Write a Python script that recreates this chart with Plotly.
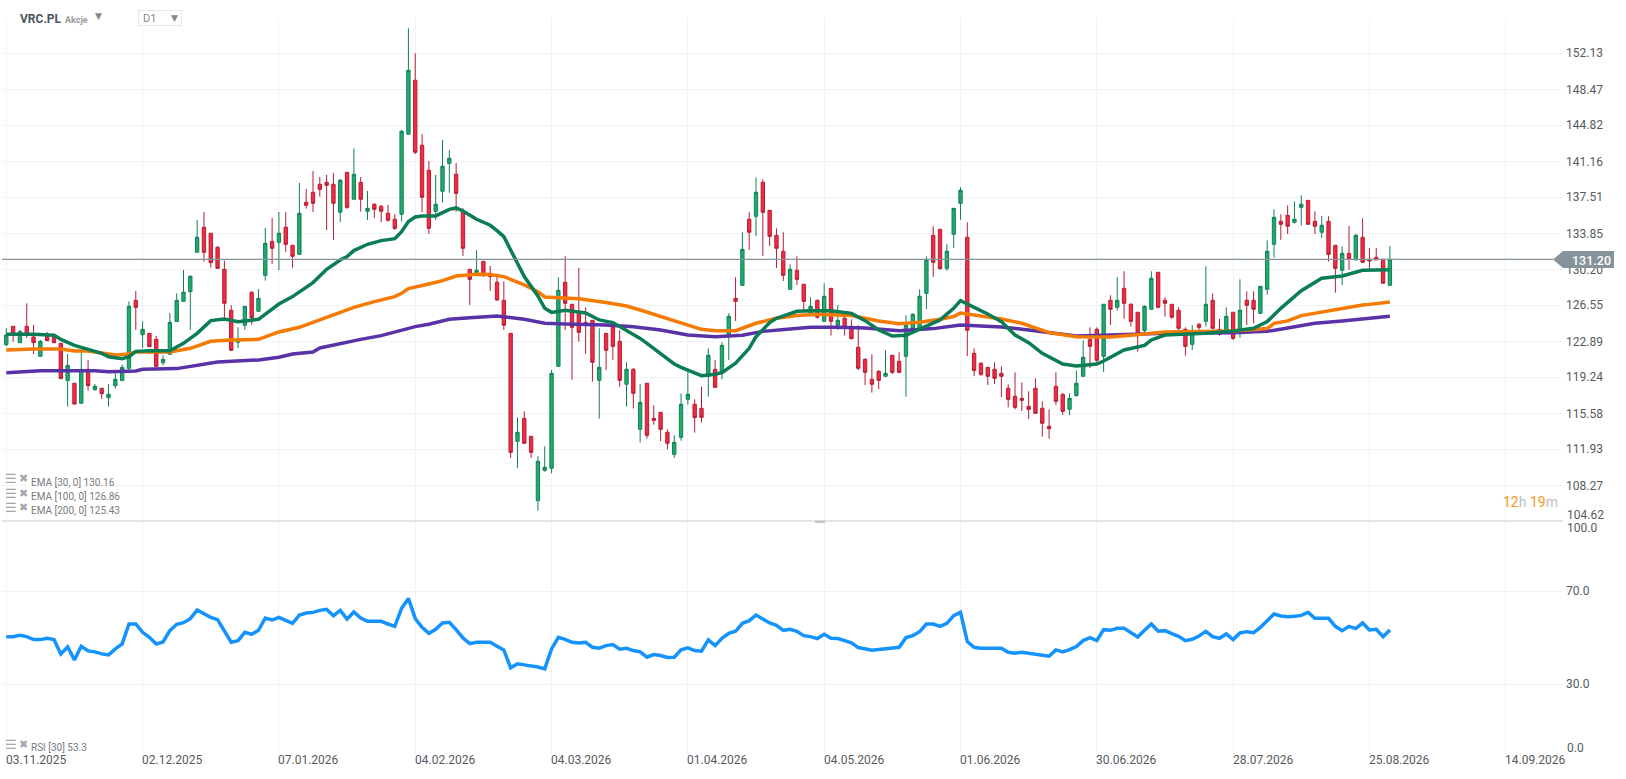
import plotly.graph_objects as go

W, H = 1626, 779

# candles (one per session)
opens = [
    122.55, 124.41, 122.75, 124.41, 123.33, 121.37, 123.43, 123.33, 122.69, 118.90,
    118.63, 116.60, 120.05, 117.98, 118.12, 117.17, 118.39, 118.90, 120.15, 127.05,
    123.57, 123.70, 123.09, 120.72, 121.57, 124.89, 126.95, 127.93, 131.93, 134.47,
    133.86, 132.43, 130.20, 126.04, 122.79, 124.52, 127.87, 125.94, 129.59, 133.04,
    132.94, 134.47, 132.64, 131.72, 137.00, 138.02, 138.83, 139.03, 138.83, 135.99,
    140.05, 137.31, 139.03, 136.09, 136.80, 136.60, 135.89, 135.28, 135.79, 143.91,
    149.39, 142.79, 140.25, 136.09, 138.12, 140.96, 139.85, 136.09, 130.20, 129.79,
    131.01, 129.79, 128.88, 127.05, 123.70, 112.74, 115.07, 113.25, 106.72, 109.79,
    110.00, 120.35, 128.88, 126.65, 125.73, 124.82, 125.02, 118.93, 123.70, 124.45,
    122.89, 118.53, 120.05, 113.96, 118.63, 115.07, 115.68, 113.65, 111.42, 113.14,
    117.00, 116.50, 116.09, 119.34, 120.05, 119.84, 123.60, 127.26, 128.57, 135.28,
    135.58, 139.03, 136.19, 133.65, 132.03, 128.17, 130.10, 128.68, 125.73, 127.05,
    124.92, 128.27, 124.52, 125.23, 124.41, 122.28, 121.06, 119.03, 119.84, 119.34,
    121.47, 120.86, 121.37, 124.11, 124.11, 127.76, 133.65, 134.26, 130.30, 133.75,
    136.90, 133.45, 121.67, 120.66, 120.25, 120.05, 119.64, 118.12, 117.31, 117.10,
    116.29, 118.12, 116.09, 114.26, 118.32, 117.51, 115.99, 117.38, 119.34, 123.09,
    124.11, 121.37, 127.05, 126.34, 128.27, 126.65, 125.84, 123.97, 126.14, 129.90,
    127.05, 126.65, 126.04, 124.11, 122.58, 124.62, 124.92, 127.05, 124.11, 123.70,
    125.84, 123.70, 127.05, 127.05, 125.73, 128.17, 132.74, 135.07, 135.68, 134.97,
    136.49, 137.20, 135.07, 133.96, 135.07, 132.64, 130.10, 131.82, 131.15, 133.45,
    131.22, 131.42, 131.22, 128.57,
]
highs = [
    124.21, 124.41, 124.04, 126.75, 124.55, 123.03, 123.84, 123.53, 122.69, 121.60,
    118.63, 121.81, 121.00, 118.56, 118.12, 118.56, 119.64, 120.52, 126.95, 128.00,
    124.92, 123.70, 123.43, 121.47, 125.77, 127.76, 130.13, 129.59, 135.21, 136.02,
    133.86, 132.57, 131.08, 126.55, 124.31, 126.44, 127.97, 128.20, 134.40, 135.41,
    136.02, 136.02, 132.64, 138.97, 138.36, 140.18, 139.57, 139.78, 139.98, 139.37,
    140.05, 142.48, 139.57, 138.15, 136.90, 136.73, 136.73, 135.82, 144.35, 154.67,
    152.13, 143.91, 141.20, 139.78, 143.33, 142.32, 141.00, 136.40, 130.20, 132.16,
    131.01, 130.54, 129.46, 128.98, 123.70, 115.17, 115.78, 113.25, 111.22, 112.23,
    119.98, 129.39, 131.52, 126.68, 130.34, 126.34, 125.02, 124.21, 123.70, 124.55,
    124.04, 120.76, 120.18, 118.56, 118.63, 116.39, 115.68, 113.96, 113.35, 117.61,
    119.84, 117.00, 118.26, 122.18, 121.00, 122.79, 125.73, 129.39, 133.96, 135.99,
    139.54, 139.34, 136.19, 134.36, 133.96, 130.71, 131.52, 128.68, 127.36, 127.15,
    128.78, 128.27, 126.55, 125.40, 125.12, 124.52, 121.17, 121.57, 119.98, 121.98,
    121.50, 121.77, 125.53, 125.73, 128.17, 131.52, 134.57, 134.26, 132.74, 136.39,
    138.53, 134.97, 122.18, 120.76, 120.25, 120.76, 120.35, 118.53, 119.74, 118.73,
    117.82, 119.13, 116.80, 115.99, 119.74, 117.61, 117.61, 119.94, 122.99, 124.31,
    124.31, 126.65, 127.56, 129.39, 130.00, 126.75, 125.84, 126.55, 130.00, 129.90,
    127.36, 126.65, 126.34, 124.31, 124.52, 124.72, 130.50, 127.76, 125.16, 126.34,
    125.84, 129.18, 127.97, 127.97, 128.47, 133.14, 136.29, 135.78, 136.70, 137.10,
    137.71, 137.20, 136.09, 135.61, 135.58, 132.64, 132.53, 134.60, 133.79, 135.38,
    132.37, 132.37, 131.22, 132.57,
]
lows = [
    122.42, 122.85, 122.75, 123.23, 121.60, 121.37, 122.96, 122.75, 119.10, 116.26,
    116.46, 116.60, 117.88, 117.88, 117.05, 116.26, 118.09, 118.90, 119.64, 124.04,
    122.21, 122.35, 120.35, 120.42, 121.57, 124.89, 126.95, 124.04, 131.93, 130.98,
    130.37, 130.30, 125.33, 121.98, 122.21, 124.04, 124.58, 125.94, 129.05, 130.74,
    130.13, 131.96, 130.34, 131.72, 136.36, 136.02, 137.58, 134.19, 133.18, 135.00,
    136.33, 137.31, 136.05, 135.21, 135.41, 135.00, 135.04, 134.19, 135.04, 143.91,
    141.91, 136.02, 133.79, 135.21, 136.97, 137.98, 136.02, 131.55, 126.58, 129.62,
    129.42, 128.00, 126.99, 124.04, 111.05, 110.03, 112.54, 111.05, 105.70, 109.66,
    109.49, 120.35, 124.04, 118.97, 122.85, 121.60, 118.80, 115.04, 119.98, 121.00,
    118.29, 116.26, 116.06, 112.60, 113.01, 114.43, 112.77, 111.93, 111.05, 112.80,
    116.46, 113.62, 114.64, 117.27, 118.22, 119.03, 121.00, 124.96, 128.57, 132.16,
    133.58, 131.55, 132.57, 130.34, 129.02, 128.17, 128.61, 125.90, 125.73, 125.19,
    124.92, 123.47, 124.04, 123.47, 123.09, 119.98, 118.46, 117.68, 118.05, 119.34,
    119.57, 119.64, 117.27, 123.64, 124.04, 126.17, 129.42, 130.13, 130.03, 132.37,
    135.21, 121.40, 119.37, 119.37, 118.46, 118.56, 117.24, 116.19, 115.99, 115.82,
    115.01, 115.58, 113.21, 113.01, 116.43, 115.41, 115.41, 117.27, 119.34, 120.18,
    120.66, 119.78, 124.55, 126.00, 125.19, 124.38, 121.84, 123.70, 126.14, 126.24,
    125.40, 125.19, 123.70, 121.43, 122.01, 123.87, 124.38, 124.11, 123.47, 123.70,
    123.03, 123.26, 124.55, 124.72, 125.73, 127.63, 131.39, 133.18, 133.79, 134.84,
    134.63, 134.77, 133.79, 133.38, 130.98, 127.83, 128.61, 130.13, 131.15, 130.88,
    130.20, 131.15, 128.78, 128.57,
]
closes = [
    123.53, 123.53, 123.87, 123.53, 122.75, 122.89, 122.96, 122.75, 119.10, 120.45,
    116.53, 120.05, 118.39, 118.32, 117.58, 117.51, 119.03, 120.25, 126.44, 126.34,
    124.11, 122.35, 120.35, 121.06, 124.82, 127.05, 127.87, 129.49, 133.45, 131.93,
    130.88, 130.30, 126.75, 121.98, 123.09, 126.44, 125.29, 127.26, 132.84, 132.33,
    133.86, 132.74, 131.52, 135.89, 136.70, 136.90, 138.32, 138.73, 136.90, 139.24,
    136.49, 139.85, 137.31, 136.39, 136.29, 136.09, 135.18, 134.36, 144.21, 150.40,
    142.08, 137.51, 134.36, 136.80, 140.66, 141.47, 137.91, 132.33, 129.18, 130.10,
    129.59, 129.46, 127.09, 124.52, 111.62, 113.65, 112.54, 111.62, 110.71, 110.10,
    119.64, 128.07, 126.75, 124.31, 123.80, 124.52, 120.76, 120.25, 121.98, 122.38,
    118.93, 120.05, 117.61, 116.70, 113.35, 114.87, 113.96, 112.54, 112.64, 116.50,
    117.51, 115.14, 115.17, 121.47, 118.22, 122.48, 125.43, 126.95, 132.23, 133.96,
    138.02, 135.99, 133.55, 132.33, 129.59, 130.20, 129.18, 126.95, 126.44, 125.33,
    127.46, 124.92, 125.02, 124.31, 123.16, 120.15, 119.74, 118.53, 118.93, 119.64,
    119.74, 119.74, 124.52, 125.63, 127.46, 131.21, 130.91, 130.27, 132.03, 136.39,
    138.22, 124.01, 119.94, 119.54, 119.34, 119.13, 119.34, 117.00, 116.19, 116.90,
    115.99, 115.58, 114.57, 114.02, 116.80, 115.78, 117.10, 118.63, 121.27, 122.38,
    120.96, 126.65, 126.14, 127.05, 126.75, 124.92, 123.70, 126.44, 129.29, 126.34,
    126.75, 125.33, 124.21, 122.38, 123.70, 124.31, 126.65, 124.21, 123.60, 125.43,
    123.19, 126.04, 126.55, 126.14, 128.47, 132.03, 135.48, 134.77, 134.57, 135.28,
    136.80, 134.77, 134.57, 134.67, 131.72, 130.30, 131.82, 131.28, 133.65, 130.91,
    131.05, 131.15, 128.78, 131.22,
]
bars = list(range(len(opens)))

# moving averages, read at the bends of each line
ema30_bars = [0, 4, 7, 8, 10, 11, 14, 15, 17, 18, 19, 21, 24, 26, 28, 30, 32, 34, 37, 40,
              42, 45, 47, 49, 50, 51, 53, 55, 57, 58, 59, 60, 61, 63, 65, 66, 67, 69, 71, 72,
              73, 74, 76, 78, 79, 80, 82, 85, 87, 89, 91, 93, 94, 96, 97, 98, 99, 100, 102, 104,
              105, 107, 109, 110, 112, 113, 116, 118, 121, 124, 126, 128, 130, 132, 134, 137, 139, 140, 142, 144,
              146, 148, 150, 152, 155, 157, 160, 161, 164, 167, 168, 170, 176, 180, 183, 185, 187, 190, 193, 196,
              199, 200, 202, 203]
ema30_vals = [123.60, 123.60, 123.50, 123.09, 122.48, 122.28, 121.67, 121.33, 121.13, 121.33,
              121.87, 121.94, 121.94, 122.69, 123.70, 124.99, 125.16, 124.89, 125.12, 126.68,
              127.43, 128.85, 130.20, 131.15, 131.49, 132.10, 132.74, 133.11, 133.31, 134.02,
              135.04, 135.51, 135.62, 135.62, 136.29, 136.43, 136.12, 135.28, 134.67, 134.13,
              133.52, 132.16, 129.46, 127.49, 126.24, 125.83, 126.04, 125.77, 125.06, 124.79,
              124.04, 123.19, 122.69, 121.67, 121.06, 120.59, 120.25, 119.98, 119.40, 119.54,
              119.71, 120.66, 122.18, 123.36, 124.79, 125.23, 125.94, 126.00, 126.00, 125.73,
              124.99, 124.04, 123.43, 123.50, 124.11, 125.06, 126.24, 127.02, 126.34, 125.67,
              124.89, 123.53, 122.75, 121.67, 120.59, 120.39, 120.59, 120.89, 122.01, 122.48,
              123.03, 123.53, 123.70, 123.94, 124.21, 124.89, 126.24, 128.03, 129.29, 129.52,
              130.10, 130.13, 130.13, 130.16]

ema100_bars = [0, 4, 8, 10, 12, 14, 16, 18, 19, 24, 27, 30, 33, 37, 40, 43, 46, 49, 51, 54,
               57, 58, 59, 62, 64, 66, 69, 71, 73, 76, 78, 79, 81, 84, 88, 91, 93, 96, 98, 100,
               102, 104, 107, 110, 113, 116, 119, 124, 128, 131, 134, 137, 139, 140, 143, 146, 149, 153, 157, 162,
               165, 170, 180, 185, 186, 188, 190, 193, 196, 199, 200, 203]
ema100_vals = [122.01, 122.11, 122.11, 121.91, 121.91, 121.67, 121.50, 121.60, 121.81, 121.81,
               122.18, 122.89, 123.03, 123.09, 123.84, 124.31, 125.06, 125.83, 126.34, 126.92,
               127.43, 127.76, 128.24, 128.71, 129.05, 129.52, 129.69, 129.66, 129.46, 128.61,
               127.93, 127.39, 127.29, 127.22, 126.82, 126.48, 126.07, 125.40, 124.92, 124.52,
               124.11, 123.97, 123.97, 124.72, 125.23, 125.50, 125.63, 125.50, 124.96, 124.68,
               124.82, 125.12, 125.40, 125.77, 125.50, 125.16, 124.72, 123.77, 123.36, 123.33,
               123.50, 123.84, 123.94, 124.18, 124.72, 124.96, 125.50, 125.87, 126.21, 126.58,
               126.64, 126.88]

ema200_bars = [0, 5, 13, 15, 19, 20, 25, 31, 37, 40, 42, 45, 46, 50, 52, 55, 57, 60, 62, 65,
               68, 72, 76, 79, 82, 88, 92, 96, 100, 104, 108, 111, 115, 118, 122, 126, 131, 136, 140, 146,
               150, 157, 162, 170, 180, 185, 188, 192, 196, 200, 203]
ema200_vals = [119.71, 119.91, 119.91, 119.81, 119.88, 120.05, 120.12, 120.79, 121.00, 121.27,
               121.60, 121.81, 122.21, 122.85, 123.09, 123.47, 123.87, 124.38, 124.62, 125.12,
               125.29, 125.46, 125.12, 124.72, 124.65, 124.55, 124.38, 124.04, 123.53, 123.36,
               123.50, 123.90, 124.14, 124.31, 124.31, 124.24, 123.97, 124.18, 124.55, 124.35,
               124.04, 123.43, 123.53, 123.70, 123.77, 123.90, 124.24, 124.72, 124.96, 125.26,
               125.43]

rsi_vals = [
    50.44, 50.44, 51.01, 50.44, 49.16, 49.16, 49.73, 49.16, 43.02, 46.02,
    40.45, 46.30, 44.30, 43.88, 43.02, 42.59, 45.16, 47.30, 55.87, 55.87,
    52.30, 50.16, 47.30, 48.16, 53.01, 55.72, 56.44, 58.15, 61.86, 60.15,
    58.72, 57.72, 53.01, 48.02, 48.73, 52.30, 51.44, 53.15, 58.44, 57.58,
    58.72, 57.29, 56.15, 59.72, 60.58, 60.86, 61.72, 62.15, 59.44, 61.72,
    58.01, 61.01, 58.44, 57.01, 57.01, 57.01, 55.87, 54.87, 62.58, 66.86,
    58.15, 54.44, 51.87, 53.58, 56.30, 56.58, 53.44, 49.87, 47.44, 48.02,
    48.02, 48.02, 46.30, 44.73, 37.02, 38.74, 38.30, 37.90, 37.40, 36.60,
    45.16, 50.16, 49.30, 48.02, 47.73, 48.02, 45.87, 45.45, 46.59, 47.02,
    45.02, 45.45, 44.45, 43.88, 41.59, 42.73, 42.31, 41.45, 41.59, 44.73,
    45.59, 44.45, 44.16, 49.02, 46.59, 49.73, 51.87, 52.73, 56.15, 57.29,
    59.72, 58.01, 56.30, 55.30, 53.15, 53.58, 52.73, 50.87, 50.44, 49.59,
    51.44, 49.73, 49.59, 48.73, 47.73, 45.73, 45.30, 44.59, 44.87, 45.30,
    45.73, 45.87, 50.01, 50.87, 52.58, 55.87, 55.87, 54.87, 56.15, 59.44,
    60.86, 48.30, 45.87, 45.45, 45.45, 45.45, 45.45, 43.73, 43.30, 43.73,
    43.30, 42.88, 42.31, 42.02, 44.73, 43.88, 44.87, 46.16, 48.73, 50.01,
    48.73, 53.44, 53.15, 54.01, 54.01, 52.30, 50.30, 53.15, 55.87, 52.73,
    53.01, 51.73, 50.59, 48.73, 49.30, 50.73, 52.73, 50.44, 49.73, 51.59,
    49.16, 52.01, 52.58, 52.16, 54.44, 57.29, 60.15, 59.29, 59.01, 59.15,
    59.58, 60.86, 58.29, 58.29, 58.29, 54.87, 53.01, 54.87, 53.87, 56.30,
    53.30, 53.58, 50.40, 53.30,
]

date_ticks = [0, 20, 40, 60, 80, 100, 120, 140, 160, 180, 200, 220]
date_labels = ["03.11.2025", "02.12.2025", "07.01.2026", "04.02.2026", "04.03.2026", "01.04.2026",
               "04.05.2026", "01.06.2026", "30.06.2026", "28.07.2026", "25.08.2026", "14.09.2026"]
price_ticks = [152.13, 148.47, 144.82, 141.16, 137.51, 133.85, 130.20, 126.55, 122.89, 119.24, 115.58, 111.93, 108.27]
last_price = 131.20

FONT = "Roboto"
GRID = "#f1f2f3"
TEXT = "#555b60"


def px(x):
    return x / W


def py(y):
    return 1 - y / H


fig = go.Figure()

fig.add_trace(go.Candlestick(
    x=bars, open=opens, high=highs, low=lows, close=closes,
    increasing=dict(fillcolor="#20aa6b", line=dict(color="#108156", width=1)),
    decreasing=dict(fillcolor="#f52a42", line=dict(color="#b41e33", width=1)),
    whiskerwidth=0, hoverinfo="skip", xaxis="x", yaxis="y",
))
fig.add_trace(go.Scatter(x=ema200_bars, y=ema200_vals, mode="lines", line=dict(color="#5a32a8", width=3.5), xaxis="x", yaxis="y"))
fig.add_trace(go.Scatter(x=ema100_bars, y=ema100_vals, mode="lines", line=dict(color="#f57a00", width=3.5), xaxis="x", yaxis="y"))
fig.add_trace(go.Scatter(x=ema30_bars, y=ema30_vals, mode="lines", line=dict(color="#0a7d54", width=3.5), xaxis="x", yaxis="y"))
fig.add_trace(go.Scatter(x=bars, y=rsi_vals, mode="lines", line=dict(color="#1493ff", width=3.5), xaxis="x2", yaxis="y2"))

x_common = dict(
    range=[-0.63, 228.4], domain=[px(2), px(1563)], tickmode="array", tickvals=date_ticks,
    showticklabels=False, showgrid=True, gridcolor=GRID, gridwidth=1, zeroline=False,
    showline=False, ticks="",
)
y_common = dict(
    side="right", tickmode="array", showgrid=True, gridcolor=GRID, gridwidth=1, zeroline=False,
    showline=False, ticks="", ticklabelstandoff=2, tickfont=dict(family=FONT, size=12, color=TEXT),
)

fig.update_layout(
    width=W, height=H, margin=dict(l=0, r=0, t=0, b=0),
    paper_bgcolor="white", plot_bgcolor="white", showlegend=False,
    font=dict(family=FONT),
    xaxis=dict(anchor="y", rangeslider=dict(visible=False), **x_common),
    xaxis2=dict(anchor="y2", matches="x", **x_common),
    yaxis=dict(anchor="x", domain=[py(521.3), py(18)], range=[104.62, 155.71],
               tickvals=price_ticks, ticktext=[f"{t:.2f}" for t in price_ticks], **y_common),
    yaxis2=dict(anchor="x2", domain=[py(754), py(521.3)], range=[0, 100],
                tickvals=[70, 30], ticktext=["70.0", "30.0"], **y_common),
)

# last price line with its tag, panel separator, symbol selector box
fig.add_shape(type="line", xref="paper", yref="y", x0=px(2), x1=px(1553), y0=last_price, y1=last_price,
              line=dict(color="#87939a", width=1.2), layer="above")
fig.add_shape(type="path", xref="paper", yref="y", xsizemode="pixel", ysizemode="pixel",
              xanchor=px(1614), yanchor=last_price,
              path="M -61 0 L -51 -8.5 L 0 -8.5 L 0 8.5 L -51 8.5 Z",
              fillcolor="#87939a", line=dict(width=0), layer="above")
fig.add_shape(type="line", xref="paper", yref="paper", x0=px(2), x1=px(1563), y0=py(521), y1=py(521),
              line=dict(color="#d9dbdc", width=1.5), layer="above")
fig.add_shape(type="rect", xref="paper", yref="paper", x0=px(815), x1=px(825), y0=py(523), y1=py(520.5),
              fillcolor="#c4c7c9", line=dict(width=0), layer="above")
fig.add_shape(type="rect", xref="paper", yref="paper", x0=px(138.5), x1=px(181.5), y0=py(25.5), y1=py(10.5),
              fillcolor="white", line=dict(color="#e6e7e8", width=1), layer="above")


def note(x, y, text, size, color, anchor="left", family=FONT, weight=None):
    fig.add_annotation(xref="paper", yref="paper", x=px(x), y=py(y), text=text, showarrow=False,
                       xanchor=anchor, yanchor="middle", borderpad=0, borderwidth=0,
                       font=dict(family=family, size=size, color=color, weight=weight))


for tick, label in zip(date_ticks, date_labels):
    fig.add_annotation(xref="x2", yref="paper", x=tick, y=py(760), xshift=-1.5, text=label, showarrow=False,
                       xanchor="left", yanchor="middle", borderpad=0,
                       font=dict(family=FONT, size=12, color=TEXT))

# labels pushed inside the panels at the axis ends
note(1566.7, 515, "104.62", 12, TEXT)
note(1566.7, 528, "100.0", 12, TEXT)
note(1566.7, 748, "0.0", 12, TEXT)

note(1611, 260.3, "131.20", 12.5, "white", anchor="right", weight=500)

# header
note(20, 18.5, "VRC.PL", 12, "#4a5560", weight=700)
note(65, 19.5, "Akcje", 9, "#9a9a9a", weight=700)
note(98, 16.5, "▼", 9, "#888888", anchor="center", family="DejaVu Sans")
note(143, 18.5, "D1", 11, "#8a8a8a")
note(174, 18, "▼", 9, "#888888", anchor="center", family="DejaVu Sans")

note(1503.3, 501.5, "<span style='color:#f7941d'>12</span>h <span style='color:#f7941d'>19</span>m", 14, "#bdbdbd")

# indicator captions
captions = [(482, "EMA [30, 0] 130.16"), (496.5, "EMA [100, 0] 126.86"), (510.5, "EMA [200, 0] 125.43"), (747, "RSI [30] 53.3")]
for y, caption in captions:
    note(5, y - 3, "☰", 13, "#a5a8aa", family="DejaVu Sans", weight=700)
    note(19, y - 3, "✖", 11, "#a5a8aa", family="DejaVu Sans")
    note(31, y, caption, 10, "#777c80")

fig.write_html("out.html", config=dict(displayModeBar=False),
               post_script="document.body.style.margin='0';document.body.style.overflow='hidden';")
